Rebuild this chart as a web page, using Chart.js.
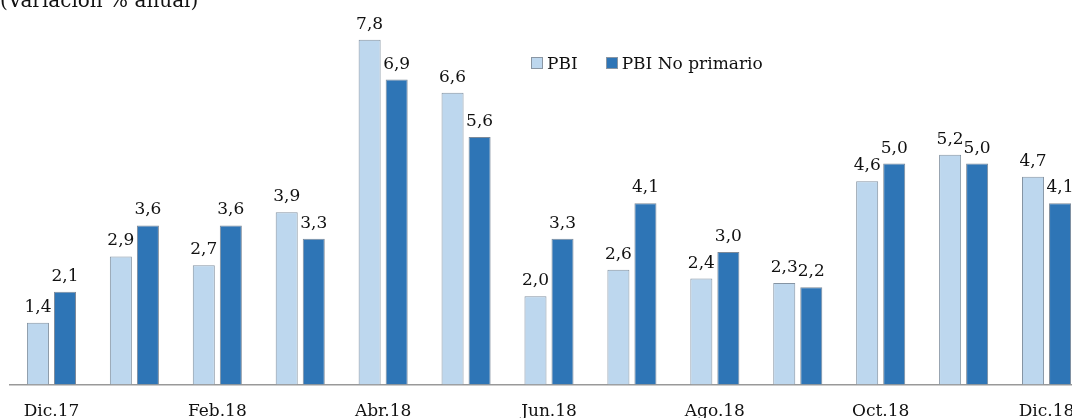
<!DOCTYPE html>
<html>
<head>
<meta charset="utf-8">
<script src="https://cdn.jsdelivr.net/npm/chart.js@4.4.0/dist/chart.umd.min.js"></script>
<style>
  html, body { margin: 0; padding: 0; background: #fff; overflow: hidden; }
  #wrap { position: relative; width: 1090px; height: 431px; }
  #legend { position: absolute; left: 531px; top: 53px; font-family: "DejaVu Serif", serif; font-size: 17px; color: #111; display: flex; align-items: center; }
  #legend .item { display: flex; align-items: center; margin-right: 28px; }
  #legend .box { width: 10px; height: 10px; border: 1px solid #8a96a3; margin-right: 4px; }
</style>
</head>
<body>
<div id="wrap">
  <canvas id="chart" width="1090" height="431"></canvas>
  <div id="legend"></div>
</div>
<script>
const categories = ['Dic.17', 'Ene.18', 'Feb.18', 'Mar.18', 'Abr.18', 'May.18', 'Jun.18', 'Jul.18', 'Ago.18', 'Set.18', 'Oct.18', 'Nov.18', 'Dic.18'];
const pbi = [1.4, 2.9, 2.7, 3.9, 7.8, 6.6, 2.0, 2.6, 2.4, 2.3, 4.6, 5.2, 4.7];
const pbiNoPrimario = [2.1, 3.6, 3.6, 3.3, 6.9, 5.6, 3.3, 4.1, 3.0, 2.2, 5.0, 5.0, 4.1];
const seriesNames = ['PBI', 'PBI No primario'];
const seriesColors = ['#bdd7ee', '#2e75b6'];

const FONT = '"DejaVu Serif", serif';

// value labels above bars, decimal comma
const valueLabels = {
  id: 'valueLabels',
  afterDatasetsDraw(chart) {
    const ctx = chart.ctx;
    ctx.save();
    ctx.font = '17px ' + FONT;
    ctx.fillStyle = '#111';
    ctx.textAlign = 'center';
    ctx.textBaseline = 'alphabetic';
    chart.data.datasets.forEach((ds, i) => {
      chart.getDatasetMeta(i).data.forEach((bar, j) => {
        ctx.fillText(ds.data[j].toFixed(1).replace('.', ','), bar.x, bar.y - 11);
      });
    });
    ctx.restore();
  }
};

// cut-off subtitle in the top-left corner
const subtitle = {
  id: 'subtitle',
  afterDraw(chart) {
    const ctx = chart.ctx;
    ctx.save();
    ctx.font = '20px ' + FONT;
    ctx.fillStyle = '#111';
    ctx.textAlign = 'left';
    ctx.textBaseline = 'alphabetic';
    ctx.fillText('(Variación % anual)', 0, 7);
    ctx.restore();
  }
};

new Chart(document.getElementById('chart'), {
  type: 'bar',
  data: {
    labels: categories,
    datasets: [
      { label: seriesNames[0], data: pbi, backgroundColor: seriesColors[0], borderColor: '#8594a3', borderWidth: 1 },
      { label: seriesNames[1], data: pbiNoPrimario, backgroundColor: seriesColors[1], borderColor: '#7d8a99', borderWidth: 1 }
    ]
  },
  options: {
    responsive: false,
    animation: false,
    categoryPercentage: 0.652,
    barPercentage: 0.815,
    layout: { padding: { left: 10, right: 2, top: 0, bottom: 0 } },
    plugins: { legend: { display: false }, tooltip: { enabled: false } },
    scales: {
      x: {
        grid: { display: false },
        border: { display: true, color: '#999', width: 1.5 },
        ticks: {
          autoSkip: false,
          maxRotation: 0,
          padding: 9,
          color: '#111',
          font: { family: FONT, size: 17 },
          callback: (v, i) => (i % 2 === 0 ? categories[i] : '')
        }
      },
      y: { display: false, min: 0, max: 8.7 }
    }
  },
  plugins: [valueLabels, subtitle]
});

// legend
const legend = document.getElementById('legend');
seriesNames.forEach((name, i) => {
  const item = document.createElement('div');
  item.className = 'item';
  item.innerHTML = `<span class="box" style="background:${seriesColors[i]}"></span>${name}`;
  legend.appendChild(item);
});
</script>
</body>
</html>
